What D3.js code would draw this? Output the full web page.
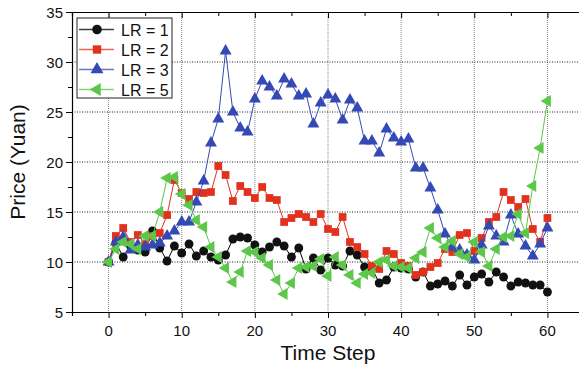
<!DOCTYPE html>
<html>
<head>
<meta charset="utf-8">
<script src="https://cdn.jsdelivr.net/npm/d3@7"></script>
<style>
  body { margin: 0; background: #fff; }
  svg { display: block; font-family: "Liberation Sans", Arial, sans-serif; }
</style>
</head>
<body>
<svg id="chart" width="579" height="370"></svg>
<script>
// values, one per time step 0..60
const steps = d3.range(0, 61);
const lr1 = [10.0, 11.9, 10.5, 11.6, 11.2, 11.0, 13.1, 11.4, 10.1, 11.6,
  10.9, 11.8, 10.6, 11.1, 10.5, 10.2, 10.7, 12.3, 12.5, 12.4,
  11.7, 11.0, 11.5, 12.0, 11.6, 10.5, 11.4, 9.3, 10.4, 9.2,
  10.4, 9.7, 9.6, 11.1, 10.7, 9.5, 9.4, 7.9, 8.2, 9.5,
  9.4, 9.3, 8.5, 9.0, 7.6, 7.8, 8.1, 7.6, 8.7, 7.7,
  8.5, 8.8, 8.0, 9.0, 8.5, 7.6, 8.0, 7.9, 7.7, 7.7, 7.0];
const lr2 = [10.0, 12.6, 13.4, 12.0, 12.7, 11.8, 12.6, 12.9, 14.7, 18.2,
  16.9, 16.3, 17.0, 16.9, 17.0, 19.6, 18.7, 16.1, 17.6, 17.0,
  16.4, 17.5, 16.4, 16.2, 14.0, 14.4, 14.8, 14.5, 14.0, 14.8,
  13.3, 13.0, 14.5, 12.0, 11.5, 10.8, 9.6, 9.3, 11.1, 10.8,
  9.9, 9.6, 8.7, 9.0, 9.5, 9.9, 11.3, 11.0, 12.7, 12.9,
  11.1, 12.4, 14.0, 14.5, 17.0, 16.2, 15.5, 16.3, 13.3, 12.0, 14.4];
const lr3 = [10.0, 12.0, 12.5, 11.2, 11.7, 11.5, 11.7, 11.9, 12.6, 13.1,
  14.0, 14.0, 16.0, 18.1, 21.9, 24.3, 31.1, 25.0, 23.4, 23.0,
  26.3, 28.1, 27.5, 26.6, 28.3, 27.8, 26.6, 26.8, 23.8, 25.9,
  26.7, 26.3, 24.2, 26.2, 25.4, 22.1, 22.1, 20.9, 23.3, 22.4,
  22.0, 22.3, 19.4, 19.4, 17.4, 15.2, 12.8, 11.5, 11.2, 10.7,
  10.2, 11.7, 13.6, 12.6, 12.0, 14.7, 12.8, 11.6, 10.6, 11.8, 13.4];
const lr5 = [10.0, 11.3, 12.0, 11.8, 11.3, 12.6, 12.6, 15.0, 18.4, 18.5,
  16.8, 15.7, 14.2, 13.5, 11.5, 10.5, 9.4, 8.0, 9.0, 11.1,
  11.0, 10.4, 9.7, 8.2, 6.8, 7.9, 9.4, 9.5, 9.6, 10.3,
  8.6, 10.5, 9.7, 8.7, 7.9, 8.8, 8.9, 10.0, 10.2, 9.6,
  9.5, 9.4, 10.4, 11.0, 13.4, 12.4, 11.5, 12.1, 10.8, 10.5,
  12.0, 11.0, 9.6, 11.3, 12.5, 12.6, 14.8, 12.9, 17.6, 21.4, 26.1];
const seriesNames = ["LR = 1", "LR = 2", "LR = 3", "LR = 5"];
const xTicks = [0, 10, 20, 30, 40, 50, 60];
const yTicks = [5, 10, 15, 20, 25, 30, 35];

const series = [
  { name: seriesNames[0], values: lr1, color: "#000000", fill: "#111111", shape: d3.symbolCircle, size: 62, rot: 0 },
  { name: seriesNames[1], values: lr2, color: "#e2311d", fill: "#e2311d", shape: d3.symbolSquare, size: 60, rot: 0 },
  { name: seriesNames[2], values: lr3, color: "#3549b5", fill: "#3549b5", shape: d3.symbolTriangle, size: 62, rot: 0 },
  { name: seriesNames[3], values: lr5, color: "#5cc74a", fill: "#5cc74a", shape: d3.symbolTriangle, size: 62, rot: -90 }
];

const margin = { top: 12, left: 72, bottom: 58 };
const svg = d3.select("#chart");
const height = 370;
const plotBottom = height - margin.bottom;

const x = d3.scaleLinear().domain([-5, 65]).range([margin.left, 584]);
const y = d3.scaleLinear().domain([5, 35]).range([plotBottom, margin.top]);

// grid
const grid = svg.append("g");
grid.selectAll("line.v")
  .data(xTicks)
  .enter()
  .append("line")
  .attr("x1", (d) => x(d)).attr("x2", (d) => x(d))
  .attr("y1", margin.top).attr("y2", plotBottom)
  .attr("stroke", "#8a8a8a")
  .attr("stroke-width", 1)
  .attr("stroke-dasharray", "1 1");
grid.selectAll("line.h")
  .data(yTicks.slice(1, -1))
  .enter()
  .append("line")
  .attr("x1", margin.left).attr("x2", 584)
  .attr("y1", (d) => y(d)).attr("y2", (d) => y(d))
  .attr("stroke", "#222")
  .attr("stroke-width", 1)
  .attr("stroke-dasharray", "1 1.5");

// axes
const minorX = d3.range(-5, 66, 5);
const minorY = d3.range(5, 35.1, 2.5);

const xAxis = svg.append("g")
  .attr("transform", `translate(0,${plotBottom})`)
  .call(d3.axisBottom(x).tickValues(minorX).tickSize(4).tickFormat(""));
xAxis.selectAll(".tick line")
  .attr("y2", (d) => (d % 10 === 0 ? 6 : 4));

svg.append("g")
  .attr("transform", `translate(0,${margin.top})`)
  .call(d3.axisTop(x).tickValues(minorX).tickSize(-4).tickFormat(""))
  .selectAll(".tick line")
  .attr("y2", (d) => (d % 10 === 0 ? 6 : 4));

const yAxis = svg.append("g")
  .attr("transform", `translate(${margin.left},0)`)
  .call(d3.axisLeft(y).tickValues(minorY).tickSize(4).tickFormat(""));
yAxis.selectAll(".tick line")
  .attr("x2", (d) => (d % 5 === 0 ? -6 : -4));

svg.selectAll(".domain").attr("stroke", "#000").attr("stroke-width", 1.2);
svg.selectAll(".tick line").attr("stroke", "#000").attr("stroke-width", 1);

// tick labels
svg.append("g")
  .selectAll("text")
  .data(xTicks)
  .enter()
  .append("text")
  .attr("x", (d) => x(d))
  .attr("y", plotBottom + 24)
  .attr("text-anchor", "middle")
  .attr("font-size", "15px")
  .attr("fill", "#111")
  .text((d) => d);

svg.append("g")
  .selectAll("text")
  .data(yTicks)
  .enter()
  .append("text")
  .attr("x", margin.left - 9)
  .attr("y", (d) => y(d) + 5.5)
  .attr("text-anchor", "end")
  .attr("font-size", "15px")
  .attr("fill", "#111")
  .text((d) => d);

// axis titles
svg.append("text")
  .attr("x", x(30))
  .attr("y", 360)
  .attr("text-anchor", "middle")
  .attr("font-size", "21px")
  .attr("fill", "#111")
  .text("Time Step");

svg.append("text")
  .attr("transform", `translate(25,${y(20)}) rotate(-90)`)
  .attr("text-anchor", "middle")
  .attr("font-size", "21px")
  .attr("fill", "#111")
  .text("Price (Yuan)");

// series
const line = d3.line()
  .x((d, i) => x(steps[i]))
  .y((d) => y(d));

series.forEach((s) => {
  const g = svg.append("g");
  g.append("path")
    .datum(s.values)
    .attr("fill", "none")
    .attr("stroke", s.color)
    .attr("stroke-width", 1)
    .attr("d", line);
  g.selectAll("path.m")
    .data(s.values)
    .enter()
    .append("path")
    .attr("d", d3.symbol().type(s.shape).size(s.size))
    .attr("transform", (d, i) => `translate(${x(steps[i])},${y(d)}) rotate(${s.rot})`)
    .attr("fill", s.fill);
});

// legend
const legend = svg.append("g").attr("transform", "translate(77,18)");
legend.append("rect")
  .attr("width", 95)
  .attr("height", 80)
  .attr("fill", "#fff")
  .attr("stroke", "#222")
  .attr("stroke-width", 1);

series.forEach((s, i) => {
  const row = legend.append("g").attr("transform", `translate(0,${11.5 + i * 20})`);
  row.append("line")
    .attr("x1", 2).attr("x2", 37)
    .attr("stroke", s.color)
    .attr("stroke-opacity", 0.75)
    .attr("stroke-width", 1.5);
  row.append("path")
    .attr("d", d3.symbol().type(s.shape).size(s.size + 10))
    .attr("transform", `translate(20,0) rotate(${s.rot})`)
    .attr("fill", s.fill);
  row.append("text")
    .attr("x", 44)
    .attr("y", 6)
    .attr("font-size", "16px")
    .attr("fill", "#111")
    .text(s.name);
});
</script>
</body>
</html>
